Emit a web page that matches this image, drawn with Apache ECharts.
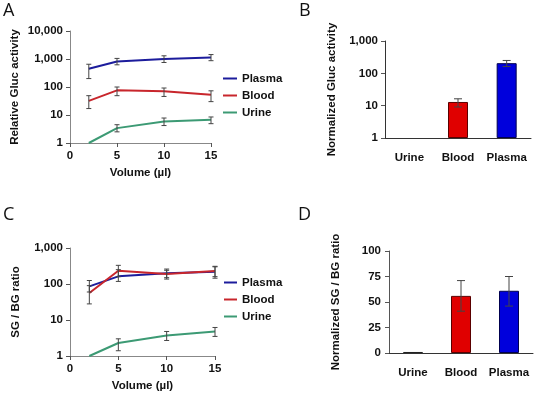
<!DOCTYPE html>
<html>
<head>
<meta charset="utf-8">
<script src="https://cdn.jsdelivr.net/npm/echarts@6/dist/echarts.min.js"></script>
<style>
html, body { margin: 0; padding: 0; background: #fff; }
#main { width: 537px; height: 394px; }
</style>
</head>
<body>
<div id="main"></div>
<script>
// volumes for the line panels
var volumes = [2, 5, 10, 15];

// panel A - relative Gluc activity
var aPlasma = [450, 820, 1000, 1140];
var aPlasmaHi = [650, 1050, 1300, 1440];
var aPlasmaLo = [200, 620, 750, 870];
var aBlood = [32, 76, 70, 53];
var aBloodHi = [49, 100, 92, 73];
var aBloodLo = [17, 49, 46, 30];
var aUrine = [1, 3.4, 5.9, 6.8];
var aUrineHi = [null, 4.5, 7.8, 8.5];
var aUrineLo = [null, 2.5, 4.2, 4.9];

// panel B - normalized Gluc activity
var categories = ['Urine', 'Blood', 'Plasma'];
var bValues = [1, 13, 206];
var bHi = [null, 16.3, 250];
var bLo = [null, 9.1, 162];

// panel C - SG / BG ratio
var cPlasma = [86, 163, 198, 220];
var cPlasmaHi = [125, 250, 260, 300];
var cPlasmaLo = [60, 118, 150, 160];
var cBlood = [56, 234, 190, 230];
var cBloodHi = [90, 330, 240, 310];
var cBloodLo = [28, 160, 137, 145];
var cUrine = [1, 2.3, 3.7, 4.8];
var cUrineHi = [null, 3.0, 4.8, 6.2];
var cUrineLo = [null, 1.4, 2.7, 3.5];

// panel D - normalized SG / BG ratio
var dValues = [1, 56, 61];
var dHi = [null, 71, 75];
var dLo = [null, 41, 46];

var seriesNames = ['Plasma', 'Blood', 'Urine'];
var lineColors = { Plasma: '#1c1c9c', Blood: '#c8262c', Urine: '#3c9a74' };
var barColors = ['#e00000', '#e00000', '#0000dc'];
var barBorders = ['#222', '#5a0000', '#000050'];

var FONT = 'Liberation Sans, Arial, sans-serif';
var boldText = { fontFamily: FONT, fontWeight: 'bold', fontSize: 11.5, color: '#111' };
var letterStyle = { fontFamily: 'Open Sans', fontWeight: 'normal', fontSize: 18, color: '#111' };

function fmtNum(v) {
  return Math.round(v).toLocaleString('en-US');
}

function errData(xs, lo, hi) {
  var out = [];
  for (var i = 0; i < xs.length; i++) {
    if (lo[i] == null) continue;
    out.push([xs[i], lo[i], hi[i]]);
  }
  return out;
}

function errSeries(idx, data, cap) {
  return {
    type: 'custom',
    xAxisIndex: idx,
    yAxisIndex: idx,
    z: 5,
    silent: true,
    data: data,
    renderItem: function (params, api) {
      var lo = api.coord([api.value(0), api.value(1)]);
      var hi = api.coord([api.value(0), api.value(2)]);
      var st = { stroke: '#444', lineWidth: 1 };
      return {
        type: 'group',
        children: [
          { type: 'line', shape: { x1: lo[0], y1: lo[1], x2: hi[0], y2: hi[1] }, style: st },
          { type: 'line', shape: { x1: lo[0] - cap, y1: lo[1], x2: lo[0] + cap, y2: lo[1] }, style: st },
          { type: 'line', shape: { x1: hi[0] - cap, y1: hi[1], x2: hi[0] + cap, y2: hi[1] }, style: st }
        ]
      };
    }
  };
}

function lineSeries(idx, name, vals) {
  return {
    type: 'line',
    name: name,
    xAxisIndex: idx,
    yAxisIndex: idx,
    symbol: 'none',
    data: volumes.map(function (v, i) { return [v, vals[i]]; }),
    lineStyle: { width: 2, color: lineColors[name] },
    itemStyle: { color: lineColors[name] },
    z: 3
  };
}

function barSeries(idx, vals, width, hideFirstBorder) {
  return {
    type: 'bar',
    name: 'bars' + idx,
    xAxisIndex: idx,
    yAxisIndex: idx,
    barWidth: width,
    data: vals.map(function (v, i) {
      var bw = (hideFirstBorder && i === 0) ? 0 : 1;
      return { value: v, itemStyle: { color: barColors[i], borderColor: barBorders[i], borderWidth: bw } };
    })
  };
}

function volumeAxis(idx) {
  return {
    type: 'value', gridIndex: idx, min: 0, max: 15, interval: 5,
    name: 'Volume (\u00b5l)', nameLocation: 'middle', nameGap: 24,
    nameTextStyle: boldText,
    axisLine: { lineStyle: { color: '#888' } },
    axisTick: { length: 4, lineStyle: { color: '#555' } },
    axisLabel: Object.assign({ margin: 7 }, boldText),
    splitLine: { show: false }
  };
}

function logAxis(idx, max, title, gap, color) {
  return {
    type: 'log', gridIndex: idx, logBase: 10, min: 1, max: max, interval: 1,
    name: title, nameLocation: 'middle', nameGap: gap,
    nameTextStyle: boldText,
    axisLine: { show: true, lineStyle: { color: color } },
    axisTick: { show: true, length: 4, lineStyle: { color: '#555' } },
    axisLabel: Object.assign({ margin: 7, formatter: fmtNum }, boldText),
    minorTick: { show: false },
    splitLine: { show: false }
  };
}

function catAxis(idx) {
  return {
    type: 'category', gridIndex: idx, data: categories,
    axisLine: { lineStyle: { color: '#333' } },
    axisTick: { length: 5, lineStyle: { color: '#333' } },
    axisLabel: Object.assign({ margin: 14, interval: 0 }, boldText),
    splitLine: { show: false }
  };
}

var chart = echarts.init(document.getElementById('main'), null, { renderer: 'canvas' });

var option = {
  backgroundColor: '#fff',
  animation: false,
  title: [
    { text: 'A', left: 3, top: 2, padding: 0, textStyle: letterStyle },
    { text: 'B', left: 299, top: 2, padding: 0, textStyle: letterStyle },
    { text: 'C', left: 3, top: 206, padding: 0, textStyle: letterStyle },
    { text: 'D', left: 298, top: 206, padding: 0, textStyle: letterStyle }
  ],
  legend: [
    {
      data: seriesNames, orient: 'vertical', left: 223, top: 72, padding: 0,
      icon: 'rect', itemWidth: 14, itemHeight: 2, itemGap: 4,
      textStyle: Object.assign({ lineHeight: 13 }, boldText), selectedMode: false
    },
    {
      data: seriesNames, orient: 'vertical', left: 224, top: 276, padding: 0,
      icon: 'rect', itemWidth: 13, itemHeight: 2, itemGap: 4,
      textStyle: Object.assign({ lineHeight: 13 }, boldText), selectedMode: false
    }
  ],
  grid: [
    { left: 70, top: 31, width: 141, height: 112 },
    { left: 385, top: 41, width: 146, height: 97 },
    { left: 70, top: 248, width: 145, height: 108 },
    { left: 389, top: 251, width: 144, height: 102 }
  ],
  xAxis: [volumeAxis(0), catAxis(1), volumeAxis(2), catAxis(3)],
  yAxis: [
    logAxis(0, 10000, 'Relative Gluc activity', 49, '#888'),
    logAxis(1, 1000, 'Normalized Gluc activity', 47, '#333'),
    logAxis(2, 1000, 'SG / BG ratio', 48, '#888'),
    {
      type: 'value', gridIndex: 3, min: 0, max: 100, interval: 25,
      name: 'Normalized SG / BG ratio', nameLocation: 'middle', nameGap: 47,
      nameTextStyle: boldText,
      axisLine: { show: true, lineStyle: { color: '#555' } },
      axisTick: { show: true, length: 4, lineStyle: { color: '#555' } },
      axisLabel: Object.assign({ margin: 8 }, boldText),
      splitLine: { show: false }
    }
  ],
  series: [
    lineSeries(0, 'Plasma', aPlasma),
    lineSeries(0, 'Blood', aBlood),
    lineSeries(0, 'Urine', aUrine),
    errSeries(0, errData(volumes, aPlasmaLo, aPlasmaHi), 2.5),
    errSeries(0, errData(volumes, aBloodLo, aBloodHi), 2.5),
    errSeries(0, errData(volumes, aUrineLo, aUrineHi), 2.5),

    barSeries(1, bValues, 20, true),
    errSeries(1, errData([0, 1, 2], bLo, bHi), 4),

    lineSeries(2, 'Plasma', cPlasma),
    lineSeries(2, 'Blood', cBlood),
    lineSeries(2, 'Urine', cUrine),
    errSeries(2, errData(volumes, cPlasmaLo, cPlasmaHi), 2.5),
    errSeries(2, errData(volumes, cBloodLo, cBloodHi), 2.5),
    errSeries(2, errData(volumes, cUrineLo, cUrineHi), 2.5),

    barSeries(3, dValues, 20, false),
    errSeries(3, errData([0, 1, 2], dLo, dHi), 4)
  ]
};

chart.setOption(option);
</script>
</body>
</html>
